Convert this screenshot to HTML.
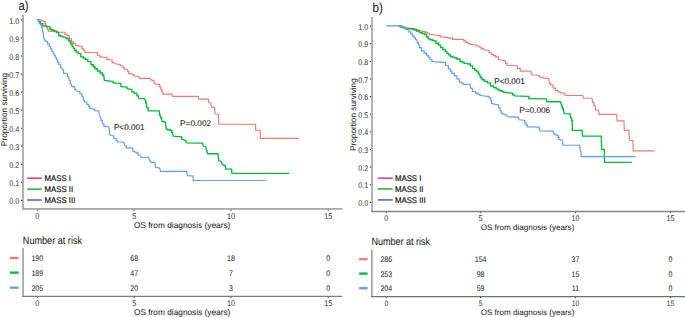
<!DOCTYPE html>
<html><head><meta charset="utf-8"><title>Kaplan-Meier survival</title>
<style>
html,body{margin:0;padding:0;background:#fff;}
body{width:685px;height:317px;overflow:hidden;}
svg{display:block;font-family:"Liberation Sans", sans-serif;text-rendering:geometricPrecision;}
.gs{stroke:#000;stroke-width:0.12px;}
.gs2{stroke:#1a1a1a;stroke-width:0.08px;}
</style></head>
<body>
<svg width="685" height="317" viewBox="0 0 685 317">
<rect width="685" height="317" fill="#fff"/>
<text transform="translate(18.50 10.20) scale(0.870 1)" font-size="13.00" fill="#111" text-anchor="start">a)</text>
<line x1="23" y1="15" x2="23" y2="209.8" stroke="#A8A8A8" stroke-width="1.8"/>
<line x1="22.1" y1="208.8" x2="342.5" y2="208.8" stroke="#A8A8A8" stroke-width="1.8"/>
<line x1="20.9" y1="200.4" x2="22.2" y2="200.4" stroke="#222" stroke-width="1.0"/>
<text transform="translate(19.40 204.20) scale(0.870 1)" font-size="8.30" fill="#333333" text-anchor="end">0.0</text>
<line x1="20.9" y1="182.3" x2="22.2" y2="182.3" stroke="#222" stroke-width="1.0"/>
<text transform="translate(19.40 186.15) scale(0.870 1)" font-size="8.30" fill="#333333" text-anchor="end">0.1</text>
<line x1="20.9" y1="164.3" x2="22.2" y2="164.3" stroke="#222" stroke-width="1.0"/>
<text transform="translate(19.40 168.10) scale(0.870 1)" font-size="8.30" fill="#333333" text-anchor="end">0.2</text>
<line x1="20.9" y1="146.2" x2="22.2" y2="146.2" stroke="#222" stroke-width="1.0"/>
<text transform="translate(19.40 150.05) scale(0.870 1)" font-size="8.30" fill="#333333" text-anchor="end">0.3</text>
<line x1="20.9" y1="128.2" x2="22.2" y2="128.2" stroke="#222" stroke-width="1.0"/>
<text transform="translate(19.40 132.00) scale(0.870 1)" font-size="8.30" fill="#333333" text-anchor="end">0.4</text>
<line x1="20.9" y1="110.2" x2="22.2" y2="110.2" stroke="#222" stroke-width="1.0"/>
<text transform="translate(19.40 113.95) scale(0.870 1)" font-size="8.30" fill="#333333" text-anchor="end">0.5</text>
<line x1="20.9" y1="92.1" x2="22.2" y2="92.1" stroke="#222" stroke-width="1.0"/>
<text transform="translate(19.40 95.90) scale(0.870 1)" font-size="8.30" fill="#333333" text-anchor="end">0.6</text>
<line x1="20.9" y1="74.1" x2="22.2" y2="74.1" stroke="#222" stroke-width="1.0"/>
<text transform="translate(19.40 77.85) scale(0.870 1)" font-size="8.30" fill="#333333" text-anchor="end">0.7</text>
<line x1="20.9" y1="56.0" x2="22.2" y2="56.0" stroke="#222" stroke-width="1.0"/>
<text transform="translate(19.40 59.80) scale(0.870 1)" font-size="8.30" fill="#333333" text-anchor="end">0.8</text>
<line x1="20.9" y1="38.0" x2="22.2" y2="38.0" stroke="#222" stroke-width="1.0"/>
<text transform="translate(19.40 41.75) scale(0.870 1)" font-size="8.30" fill="#333333" text-anchor="end">0.9</text>
<line x1="20.9" y1="19.9" x2="22.2" y2="19.9" stroke="#222" stroke-width="1.0"/>
<text transform="translate(19.40 23.70) scale(0.870 1)" font-size="8.30" fill="#333333" text-anchor="end">1.0</text>
<line x1="37.3" y1="209.6" x2="37.3" y2="211" stroke="#333" stroke-width="0.9"/>
<text transform="translate(37.30 218.90) scale(0.870 1)" font-size="8.30" fill="#333333" text-anchor="middle">0</text>
<line x1="134.2" y1="209.6" x2="134.2" y2="211" stroke="#333" stroke-width="0.9"/>
<text transform="translate(134.20 218.90) scale(0.870 1)" font-size="8.30" fill="#333333" text-anchor="middle">5</text>
<line x1="231.0" y1="209.6" x2="231.0" y2="211" stroke="#333" stroke-width="0.9"/>
<text transform="translate(231.00 218.90) scale(0.870 1)" font-size="8.30" fill="#333333" text-anchor="middle">10</text>
<line x1="328.2" y1="209.6" x2="328.2" y2="211" stroke="#333" stroke-width="0.9"/>
<text transform="translate(328.20 218.90) scale(0.870 1)" font-size="8.30" fill="#333333" text-anchor="middle">15</text>
<text x="182.2" y="228.1" font-size="8.30" fill="#111" text-anchor="middle">OS from diagnosis (years)</text>
<text x="7.0" y="109.5" font-size="8.30" fill="#111" text-anchor="middle" transform="rotate(-90 7.0 109.5)">Proportion surviving</text>
<path d="M37.60 19.60 L40.00 19.80 H41.15 V20.70 H42.30 H43.45 V21.60 H44.60 H44.95 V23.55 H45.30 H45.65 V25.50 H46.00 H46.47 V27.40 H46.93 H47.40 V29.30 H47.87 H48.33 V31.20 H48.80 L56.00 31.40 L58.20 32.10 L64.20 32.20 H65.05 V34.30 H65.90 H67.00 V35.60 H68.10 H69.20 V38.70 H70.30 H71.50 V41.80 H72.70 H73.62 V43.60 H74.55 H75.48 V45.40 H76.40 L80.50 46.20 H81.80 V48.90 H83.10 H83.70 V50.70 H84.30 H84.90 V52.50 H85.50 L95.70 52.50 H97.30 V55.20 H98.90 H99.85 V56.90 H100.80 L105.80 57.50 H107.05 V59.40 H108.30 L110.90 60.00 H112.15 V62.60 H113.40 L115.90 63.80 L119.10 64.50 H120.35 V65.70 H121.60 H122.25 V67.00 H122.90 H123.80 V68.90 H124.70 L127.10 69.70 H127.70 V71.60 H128.30 H128.90 V73.50 H129.50 L132.60 74.40 H133.80 V76.00 H135.00 L138.90 76.80 L139.70 78.30 L150.20 78.30 L151.10 79.90 L153.00 80.40 H153.95 V82.80 H154.90 L155.90 84.40 L159.20 84.40 H159.72 V86.83 H160.25 H160.78 V89.25 H161.30 H161.82 V91.67 H162.35 H162.88 V94.10 H163.40 L172.00 94.10 L172.60 96.30 L198.30 96.30 L198.70 99.10 L208.40 99.10 L208.80 102.60 L210.80 103.20 L211.30 107.00 L214.60 107.60 L215.10 114.00 L218.40 114.20 L218.80 124.20 L255.60 124.20 L255.60 130.20 L260.20 130.20 L260.20 138.40 L299.10 138.40" fill="none" stroke="#F8766D" stroke-width="1.15"/>
<path d="M37.60 19.60 H38.53 V21.65 H39.45 H40.38 V23.70 H41.30 H42.90 V26.00 H44.50 L49.20 26.80 H50.00 V29.20 H50.80 H51.77 V30.00 H52.75 H53.73 V30.80 H54.70 H56.30 V32.30 H57.90 H58.65 V35.50 H59.40 H60.60 V36.30 H61.80 H63.00 V37.10 H64.20 H65.18 V37.90 H66.15 H67.12 V38.70 H68.10 H68.90 V41.00 H69.70 H70.50 V43.75 H71.30 H72.10 V46.50 H72.90 H73.48 V48.50 H74.05 H74.62 V50.50 H75.20 H76.20 V52.05 H77.20 H78.20 V53.60 H79.20 H80.75 V56.80 H82.30 H83.30 V58.10 H84.30 H85.30 V59.40 H86.30 H87.85 V61.60 H89.40 H91.00 V64.70 H92.60 H93.38 V66.70 H94.15 H94.93 V68.70 H95.70 H97.30 V71.00 H98.90 H100.08 V73.00 H101.25 H102.42 V75.00 H103.60 L104.40 80.50 L112.30 81.30 H113.10 V82.90 H113.90 L120.20 83.40 H120.90 V86.60 H121.60 L126.30 87.10 H127.10 V88.60 H127.90 L131.00 89.40 H131.80 V91.80 H132.60 H134.20 V93.40 H135.80 H136.95 V95.70 H138.10 L138.90 98.60 L144.50 98.60 L145.70 101.30 H145.92 V103.40 H146.13 H146.35 V105.50 H146.57 H146.78 V107.60 H147.00 H148.15 V110.80 H149.30 L159.20 110.80 L159.60 115.20 H160.55 V117.70 H161.50 L162.10 121.50 L165.30 122.10 L166.30 129.10 H167.58 V129.70 H168.85 H170.12 V130.30 H171.40 H171.75 V132.20 H172.10 H172.45 V134.10 H172.80 L173.30 136.10 L181.00 136.90 H181.80 V139.40 H182.60 L185.70 140.50 L186.40 142.90 L202.60 143.20 L203.10 145.80 L205.80 147.00 L206.50 149.70 L207.60 153.70 L217.90 153.70 L218.80 160.80 L221.50 161.50 L222.30 164.70 L225.20 165.50 L225.50 169.10 L231.50 169.10 L231.90 173.30 L289.40 173.30" fill="none" stroke="#00BA38" stroke-width="1.35"/>
<path d="M37.60 19.60 L38.40 21.20 H39.10 V23.10 H39.80 L40.70 25.00 H41.40 V27.40 H42.10 L42.60 30.20 L43.10 32.60 L43.60 35.90 L44.00 39.20 H44.75 V40.60 H45.50 L46.80 41.80 H47.60 V44.15 H48.40 H49.20 V46.50 H50.00 H50.60 V48.90 H51.20 H51.80 V51.30 H52.40 H52.97 V53.25 H53.55 H54.12 V55.20 H54.70 H55.30 V57.60 H55.90 H56.50 V60.00 H57.10 H57.70 V62.35 H58.30 H58.90 V64.70 H59.50 H60.65 V67.90 H61.80 L62.80 70.00 H63.60 V73.30 H64.40 L66.60 73.90 H67.45 V76.60 H68.30 L69.40 80.50 H70.20 V83.80 H71.00 L72.10 86.60 L73.80 86.60 H74.65 V89.30 H75.50 L76.60 91.00 L78.80 91.50 H79.90 V93.70 H81.00 H82.10 V96.50 H83.20 L83.40 100.40 H84.40 V102.00 H85.40 H86.80 V104.40 H88.20 H88.75 V106.35 H89.30 H89.85 V108.30 H90.40 L93.70 109.10 H94.80 V110.70 H95.90 L98.70 111.00 L99.20 113.80 L100.30 117.70 H100.90 V120.40 H101.50 H102.30 V123.70 H103.10 H103.95 V126.30 H104.80 L108.60 126.50 L109.30 129.20 L109.40 134.60 L112.20 135.70 H113.85 V138.50 H115.50 H116.05 V140.15 H116.60 H117.15 V141.80 H117.70 L123.80 142.30 L124.90 145.70 H126.25 V147.90 H127.60 L132.00 148.10 H132.85 V151.20 H133.70 H134.52 V152.00 H135.35 H136.18 V152.80 H137.00 H138.10 V155.00 H139.20 L140.00 155.20 L140.80 157.10 L148.70 157.40 L149.40 160.20 H150.20 V162.10 H151.00 L155.00 162.60 L155.30 167.30 L159.70 168.10 L160.50 171.30 L186.70 171.30 L187.30 175.60 L192.90 176.00 L193.40 180.50 L265.50 180.50" fill="none" stroke="#619CFF" stroke-width="1.15"/>
<text class="gs2" x="113.9" y="130.0" font-size="8.20" fill="#1a1a1a" text-anchor="start">P&lt;0.001</text>
<text class="gs2" x="180.1" y="126.1" font-size="8.25" fill="#1a1a1a" text-anchor="start">P=0.002</text>
<line x1="27.2" y1="178.2" x2="41.8" y2="178.2" stroke="#E0505E" stroke-width="1.7"/>
<text class="gs" transform="translate(44.60 180.80) scale(0.950 1)" font-size="8.20" fill="#000" text-anchor="start">MASS I</text>
<line x1="27.2" y1="189.2" x2="41.8" y2="189.2" stroke="#3DB54A" stroke-width="1.7"/>
<text class="gs" transform="translate(44.60 191.80) scale(0.950 1)" font-size="8.20" fill="#000" text-anchor="start">MASS II</text>
<line x1="27.2" y1="200.0" x2="41.8" y2="200.0" stroke="#4A78DC" stroke-width="1.7"/>
<text class="gs" transform="translate(44.60 202.60) scale(0.950 1)" font-size="8.20" fill="#000" text-anchor="start">MASS III</text>
<text transform="translate(22.80 243.75) scale(0.860 1)" font-size="10.60" fill="#111" text-anchor="start">Number at risk</text>
<line x1="23.1" y1="248.2" x2="23.1" y2="296.8" stroke="#A8A8A8" stroke-width="1.8"/>
<line x1="22.2" y1="296.3" x2="342.2" y2="296.3" stroke="#7E7E7E" stroke-width="1.3"/>
<line x1="9.9" y1="258.0" x2="18.6" y2="258.0" stroke="#F8766D" stroke-width="2.3"/>
<text transform="translate(37.30 260.90) scale(0.870 1)" font-size="8.10" fill="#151515" text-anchor="middle">190</text>
<text transform="translate(134.20 260.90) scale(0.870 1)" font-size="8.10" fill="#151515" text-anchor="middle">68</text>
<text transform="translate(231.00 260.90) scale(0.870 1)" font-size="8.10" fill="#151515" text-anchor="middle">18</text>
<text transform="translate(328.20 260.90) scale(0.870 1)" font-size="8.10" fill="#151515" text-anchor="middle">0</text>
<line x1="9.9" y1="272.6" x2="18.6" y2="272.6" stroke="#00BA38" stroke-width="2.3"/>
<text transform="translate(37.30 275.50) scale(0.870 1)" font-size="8.10" fill="#151515" text-anchor="middle">189</text>
<text transform="translate(134.20 275.50) scale(0.870 1)" font-size="8.10" fill="#151515" text-anchor="middle">47</text>
<text transform="translate(231.00 275.50) scale(0.870 1)" font-size="8.10" fill="#151515" text-anchor="middle">7</text>
<text transform="translate(328.20 275.50) scale(0.870 1)" font-size="8.10" fill="#151515" text-anchor="middle">0</text>
<line x1="9.9" y1="287.7" x2="18.6" y2="287.7" stroke="#619CFF" stroke-width="2.3"/>
<text transform="translate(37.30 290.60) scale(0.870 1)" font-size="8.10" fill="#151515" text-anchor="middle">205</text>
<text transform="translate(134.20 290.60) scale(0.870 1)" font-size="8.10" fill="#151515" text-anchor="middle">20</text>
<text transform="translate(231.00 290.60) scale(0.870 1)" font-size="8.10" fill="#151515" text-anchor="middle">3</text>
<text transform="translate(328.20 290.60) scale(0.870 1)" font-size="8.10" fill="#151515" text-anchor="middle">0</text>
<line x1="37.3" y1="296.8" x2="37.3" y2="298" stroke="#333" stroke-width="0.9"/>
<text transform="translate(37.30 305.70) scale(0.870 1)" font-size="8.30" fill="#333333" text-anchor="middle">0</text>
<line x1="134.2" y1="296.8" x2="134.2" y2="298" stroke="#333" stroke-width="0.9"/>
<text transform="translate(134.20 305.70) scale(0.870 1)" font-size="8.30" fill="#333333" text-anchor="middle">5</text>
<line x1="231.0" y1="296.8" x2="231.0" y2="298" stroke="#333" stroke-width="0.9"/>
<text transform="translate(231.00 305.70) scale(0.870 1)" font-size="8.30" fill="#333333" text-anchor="middle">10</text>
<line x1="328.2" y1="296.8" x2="328.2" y2="298" stroke="#333" stroke-width="0.9"/>
<text transform="translate(328.20 305.70) scale(0.870 1)" font-size="8.30" fill="#333333" text-anchor="middle">15</text>
<text x="182.2" y="315.3" font-size="8.30" fill="#111" text-anchor="middle">OS from diagnosis (years)</text>
<text transform="translate(372.40 12.20) scale(0.900 1)" font-size="13.00" fill="#111" text-anchor="start">b)</text>
<line x1="372" y1="17" x2="372" y2="212" stroke="#ABABAB" stroke-width="1.8"/>
<line x1="371.1" y1="211.5" x2="685" y2="211.5" stroke="#858585" stroke-width="1.3"/>
<line x1="369.9" y1="202.4" x2="371.1" y2="202.4" stroke="#222" stroke-width="1.0"/>
<text transform="translate(368.20 206.00) scale(0.870 1)" font-size="8.20" fill="#333333" text-anchor="end">0.0</text>
<line x1="369.9" y1="184.8" x2="371.1" y2="184.8" stroke="#222" stroke-width="1.0"/>
<text transform="translate(368.20 188.37) scale(0.870 1)" font-size="8.20" fill="#333333" text-anchor="end">0.1</text>
<line x1="369.9" y1="167.1" x2="371.1" y2="167.1" stroke="#222" stroke-width="1.0"/>
<text transform="translate(368.20 170.74) scale(0.870 1)" font-size="8.20" fill="#333333" text-anchor="end">0.2</text>
<line x1="369.9" y1="149.5" x2="371.1" y2="149.5" stroke="#222" stroke-width="1.0"/>
<text transform="translate(368.20 153.11) scale(0.870 1)" font-size="8.20" fill="#333333" text-anchor="end">0.3</text>
<line x1="369.9" y1="131.9" x2="371.1" y2="131.9" stroke="#222" stroke-width="1.0"/>
<text transform="translate(368.20 135.48) scale(0.870 1)" font-size="8.20" fill="#333333" text-anchor="end">0.4</text>
<line x1="369.9" y1="114.2" x2="371.1" y2="114.2" stroke="#222" stroke-width="1.0"/>
<text transform="translate(368.20 117.85) scale(0.870 1)" font-size="8.20" fill="#333333" text-anchor="end">0.5</text>
<line x1="369.9" y1="96.6" x2="371.1" y2="96.6" stroke="#222" stroke-width="1.0"/>
<text transform="translate(368.20 100.22) scale(0.870 1)" font-size="8.20" fill="#333333" text-anchor="end">0.6</text>
<line x1="369.9" y1="79.0" x2="371.1" y2="79.0" stroke="#222" stroke-width="1.0"/>
<text transform="translate(368.20 82.59) scale(0.870 1)" font-size="8.20" fill="#333333" text-anchor="end">0.7</text>
<line x1="369.9" y1="61.4" x2="371.1" y2="61.4" stroke="#222" stroke-width="1.0"/>
<text transform="translate(368.20 64.96) scale(0.870 1)" font-size="8.20" fill="#333333" text-anchor="end">0.8</text>
<line x1="369.9" y1="43.7" x2="371.1" y2="43.7" stroke="#222" stroke-width="1.0"/>
<text transform="translate(368.20 47.33) scale(0.870 1)" font-size="8.20" fill="#333333" text-anchor="end">0.9</text>
<line x1="369.9" y1="26.1" x2="371.1" y2="26.1" stroke="#222" stroke-width="1.0"/>
<text transform="translate(368.20 29.70) scale(0.870 1)" font-size="8.20" fill="#333333" text-anchor="end">1.0</text>
<line x1="386.3" y1="212" x2="386.3" y2="213.2" stroke="#333" stroke-width="0.9"/>
<text transform="translate(386.30 220.90) scale(0.870 1)" font-size="8.20" fill="#333333" text-anchor="middle">0</text>
<line x1="480.6" y1="212" x2="480.6" y2="213.2" stroke="#333" stroke-width="0.9"/>
<text transform="translate(480.60 220.90) scale(0.870 1)" font-size="8.20" fill="#333333" text-anchor="middle">5</text>
<line x1="575.5" y1="212" x2="575.5" y2="213.2" stroke="#333" stroke-width="0.9"/>
<text transform="translate(575.50 220.90) scale(0.870 1)" font-size="8.20" fill="#333333" text-anchor="middle">10</text>
<line x1="670.4" y1="212" x2="670.4" y2="213.2" stroke="#333" stroke-width="0.9"/>
<text transform="translate(670.40 220.90) scale(0.870 1)" font-size="8.20" fill="#333333" text-anchor="middle">15</text>
<text x="527.5" y="229.6" font-size="8.07" fill="#111" text-anchor="middle">OS from diagnosis (years)</text>
<text x="355.9" y="114.6" font-size="8.22" fill="#111" text-anchor="middle" transform="rotate(-90 355.9 114.6)">Proportion surviving</text>
<path d="M398.50 25.90 L399.70 26.30 H400.75 V26.73 H401.80 H402.85 V27.17 H403.90 H404.95 V27.60 H406.00 H407.09 V27.95 H408.18 H409.26 V28.30 H410.35 H411.44 V28.65 H412.52 H413.61 V29.00 H414.70 H415.75 V29.67 H416.80 H417.85 V30.33 H418.90 H419.95 V31.00 H421.00 H422.38 V31.65 H423.75 H425.12 V32.30 H426.50 H427.50 V33.25 H428.50 H429.50 V34.20 H430.50 L435.20 35.00 L439.10 35.80 H440.70 V37.00 H442.30 L446.20 37.40 L451.00 38.10 H452.55 V39.40 H454.10 L462.90 39.50 H463.88 V40.90 H464.85 H465.83 V42.30 H466.80 H467.80 V43.40 H468.80 H469.80 V44.50 H470.80 L475.50 45.00 H476.68 V46.00 H477.85 H479.02 V47.00 H480.20 H481.20 V48.35 H482.20 H483.20 V49.70 H484.20 L488.10 50.50 H489.10 V52.45 H490.10 H491.10 V54.40 H492.10 H493.28 V55.60 H494.45 H495.62 V56.80 H496.80 H498.40 V59.70 H500.00 L504.70 60.80 H505.48 V63.15 H506.25 H507.02 V65.50 H507.80 L516.00 65.70 H517.35 V68.40 H518.70 H520.25 V71.10 H521.80 L530.50 71.20 H530.90 V72.95 H531.30 H531.70 V74.70 H532.10 L538.40 75.20 H539.20 V76.80 H540.00 L543.10 77.90 L548.60 78.70 L549.40 83.40 H550.60 V85.00 H551.80 H553.00 V88.10 H554.20 H555.35 V90.50 H556.50 H558.10 V91.80 H559.70 L561.30 92.90 L564.40 93.20 L565.30 95.50 L582.60 95.50 L583.60 98.20 L592.00 98.20 L592.60 102.30 H593.80 V105.50 H595.00 L595.60 110.00 L598.60 110.20 L599.20 114.30 L616.60 114.30 L617.10 120.80 L623.90 120.80 L624.40 130.30 L628.90 130.30 L629.40 140.30 L632.90 140.50 L633.30 150.80 L654.20 150.80" fill="none" stroke="#F8766D" stroke-width="1.15"/>
<path d="M398.50 25.90 L399.70 26.30 H400.75 V27.10 H401.80 H402.85 V27.90 H403.90 H404.95 V28.70 H406.00 L413.10 29.00 H414.30 V30.00 H415.50 H416.70 V31.00 H417.90 H419.45 V32.60 H421.00 H422.18 V33.55 H423.35 H424.52 V34.50 H425.70 H426.50 V36.70 H427.30 H428.10 V38.90 H428.90 H430.07 V39.70 H431.25 H432.43 V40.50 H433.60 L435.00 40.90 H435.95 V43.20 H436.90 H438.45 V45.10 H440.00 H440.65 V47.60 H441.30 H442.90 V49.50 H444.50 H445.27 V51.40 H446.05 H446.83 V53.30 H447.60 H448.55 V54.90 H449.50 H450.45 V56.50 H451.40 H452.35 V57.10 H453.30 H454.25 V57.70 H455.20 H456.75 V59.00 H458.30 H459.90 V61.50 H461.50 H462.45 V62.45 H463.40 H464.35 V63.40 H465.30 L469.10 64.00 H470.35 V65.90 H471.60 H472.55 V68.40 H473.50 H474.60 V70.10 H475.70 H476.80 V71.80 H477.90 H478.47 V73.80 H479.05 H479.62 V75.80 H480.20 H480.80 V77.75 H481.40 H482.00 V79.70 H482.60 H484.15 V81.30 H485.70 H487.30 V82.90 H488.90 H490.45 V86.00 H492.00 H493.60 V87.60 H495.20 H496.17 V88.80 H497.15 H498.12 V90.00 H499.10 H500.03 V90.77 H500.97 H501.90 V91.53 H502.83 H503.77 V92.30 H504.70 L511.00 93.10 H512.55 V94.70 H514.10 L514.70 95.90 L528.10 96.30 H528.90 V98.60 H529.70 L546.30 98.90 L547.10 101.70 L560.50 101.70 L561.30 104.50 H561.70 V106.60 H562.10 H562.50 V108.70 H562.90 H563.30 V110.80 H563.70 L564.40 113.70 L570.00 113.90 L570.80 117.90 H571.55 V120.20 H572.30 L572.30 130.30 L582.10 130.30 L582.60 136.10 L601.30 136.10 L601.60 149.30 L604.30 149.50 L604.50 162.30 L631.80 162.30" fill="none" stroke="#00BA38" stroke-width="1.35"/>
<path d="M386.30 25.80 L401.30 25.80 H402.50 V27.10 H403.70 H404.67 V28.30 H405.65 H406.62 V29.50 H407.60 H408.80 V31.80 H410.00 H410.77 V33.80 H411.55 H412.33 V35.80 H413.10 H413.90 V37.75 H414.70 H415.50 V39.70 H416.30 H417.10 V42.90 H417.90 H418.47 V45.25 H419.05 H419.62 V47.60 H420.20 H421.40 V50.80 H422.60 H424.15 V53.10 H425.70 H426.50 V55.10 H427.30 H428.10 V57.10 H428.90 H429.88 V59.20 H430.85 H431.83 V61.30 H432.80 L434.40 61.90 L443.90 62.30 H445.50 V65.50 H447.10 H448.30 V68.70 H449.50 H450.27 V71.05 H451.05 H451.83 V73.40 H452.60 H454.20 V75.80 H455.80 H456.95 V78.90 H458.10 H459.30 V82.10 H460.50 H461.48 V83.25 H462.45 H463.42 V84.40 H464.40 L470.00 84.40 L470.80 88.40 H472.35 V91.50 H473.90 H475.50 V93.10 H477.10 H478.08 V94.30 H479.05 H480.02 V95.50 H481.00 L487.30 96.30 H488.90 V97.90 H490.50 H490.88 V100.65 H491.25 H491.62 V103.40 H492.00 L493.20 103.90 L497.90 104.70 H498.70 V107.90 H499.50 H500.07 V110.65 H500.65 H501.23 V113.40 H501.80 H503.00 V114.20 H504.20 H505.40 V115.00 H506.60 L507.40 116.60 L518.40 117.40 L519.20 119.70 L523.90 120.20 H524.70 V122.90 H525.50 H526.10 V124.85 H526.70 H527.30 V126.80 H527.90 L538.90 127.10 H539.22 V129.05 H539.55 H539.88 V131.00 H540.20 L553.10 131.10 L553.90 133.90 H554.88 V134.70 H555.85 H556.82 V135.50 H557.80 H558.20 V137.45 H558.60 H559.00 V139.40 H559.40 L562.40 140.20 L562.90 145.20 L579.70 145.20 L580.20 150.80 L581.00 151.50 L581.30 156.60 L635.70 156.60" fill="none" stroke="#619CFF" stroke-width="1.15"/>
<text class="gs2" x="494.2" y="83.6" font-size="8.20" fill="#1a1a1a" text-anchor="start">P&lt;0.001</text>
<text class="gs2" x="519.2" y="113.0" font-size="8.25" fill="#1a1a1a" text-anchor="start">P=0.006</text>
<line x1="377.8" y1="178.2" x2="392.7" y2="178.2" stroke="#E0505E" stroke-width="1.7"/>
<text class="gs" transform="translate(395.00 180.80) scale(0.950 1)" font-size="8.20" fill="#000" text-anchor="start">MASS I</text>
<line x1="377.8" y1="188.9" x2="392.7" y2="188.9" stroke="#3DB54A" stroke-width="1.7"/>
<text class="gs" transform="translate(395.00 191.50) scale(0.950 1)" font-size="8.20" fill="#000" text-anchor="start">MASS II</text>
<line x1="377.8" y1="199.9" x2="392.7" y2="199.9" stroke="#4A78DC" stroke-width="1.7"/>
<text class="gs" transform="translate(395.00 202.50) scale(0.950 1)" font-size="8.20" fill="#000" text-anchor="start">MASS III</text>
<text transform="translate(371.40 245.30) scale(0.860 1)" font-size="10.50" fill="#111" text-anchor="start">Number at risk</text>
<line x1="371.8" y1="249.8" x2="371.8" y2="297" stroke="#A8A8A8" stroke-width="1.8"/>
<line x1="370.9" y1="296.6" x2="685" y2="296.6" stroke="#707070" stroke-width="1.25"/>
<line x1="359.2" y1="259.2" x2="367.6" y2="259.2" stroke="#F8766D" stroke-width="2.3"/>
<text transform="translate(386.30 262.10) scale(0.870 1)" font-size="8.10" fill="#151515" text-anchor="middle">286</text>
<text transform="translate(480.60 262.10) scale(0.870 1)" font-size="8.10" fill="#151515" text-anchor="middle">154</text>
<text transform="translate(575.50 262.10) scale(0.870 1)" font-size="8.10" fill="#151515" text-anchor="middle">37</text>
<text transform="translate(670.40 262.10) scale(0.870 1)" font-size="8.10" fill="#151515" text-anchor="middle">0</text>
<line x1="359.2" y1="273.6" x2="367.6" y2="273.6" stroke="#00BA38" stroke-width="2.3"/>
<text transform="translate(386.30 276.50) scale(0.870 1)" font-size="8.10" fill="#151515" text-anchor="middle">253</text>
<text transform="translate(480.60 276.50) scale(0.870 1)" font-size="8.10" fill="#151515" text-anchor="middle">98</text>
<text transform="translate(575.50 276.50) scale(0.870 1)" font-size="8.10" fill="#151515" text-anchor="middle">15</text>
<text transform="translate(670.40 276.50) scale(0.870 1)" font-size="8.10" fill="#151515" text-anchor="middle">0</text>
<line x1="359.2" y1="288.2" x2="367.6" y2="288.2" stroke="#619CFF" stroke-width="2.3"/>
<text transform="translate(386.30 291.10) scale(0.870 1)" font-size="8.10" fill="#151515" text-anchor="middle">204</text>
<text transform="translate(480.60 291.10) scale(0.870 1)" font-size="8.10" fill="#151515" text-anchor="middle">59</text>
<text transform="translate(575.50 291.10) scale(0.870 1)" font-size="8.10" fill="#151515" text-anchor="middle">11</text>
<text transform="translate(670.40 291.10) scale(0.870 1)" font-size="8.10" fill="#151515" text-anchor="middle">0</text>
<line x1="386.3" y1="297" x2="386.3" y2="298.2" stroke="#333" stroke-width="0.9"/>
<text transform="translate(386.30 306.10) scale(0.870 1)" font-size="7.90" fill="#333333" text-anchor="middle">0</text>
<line x1="480.6" y1="297" x2="480.6" y2="298.2" stroke="#333" stroke-width="0.9"/>
<text transform="translate(480.60 306.10) scale(0.870 1)" font-size="7.90" fill="#333333" text-anchor="middle">5</text>
<line x1="575.5" y1="297" x2="575.5" y2="298.2" stroke="#333" stroke-width="0.9"/>
<text transform="translate(575.50 306.10) scale(0.870 1)" font-size="7.90" fill="#333333" text-anchor="middle">10</text>
<line x1="670.4" y1="297" x2="670.4" y2="298.2" stroke="#333" stroke-width="0.9"/>
<text transform="translate(670.40 306.10) scale(0.870 1)" font-size="7.90" fill="#333333" text-anchor="middle">15</text>
<text x="527.5" y="315.4" font-size="8.07" fill="#111" text-anchor="middle">OS from diagnosis (years)</text>
</svg>
</body></html>
